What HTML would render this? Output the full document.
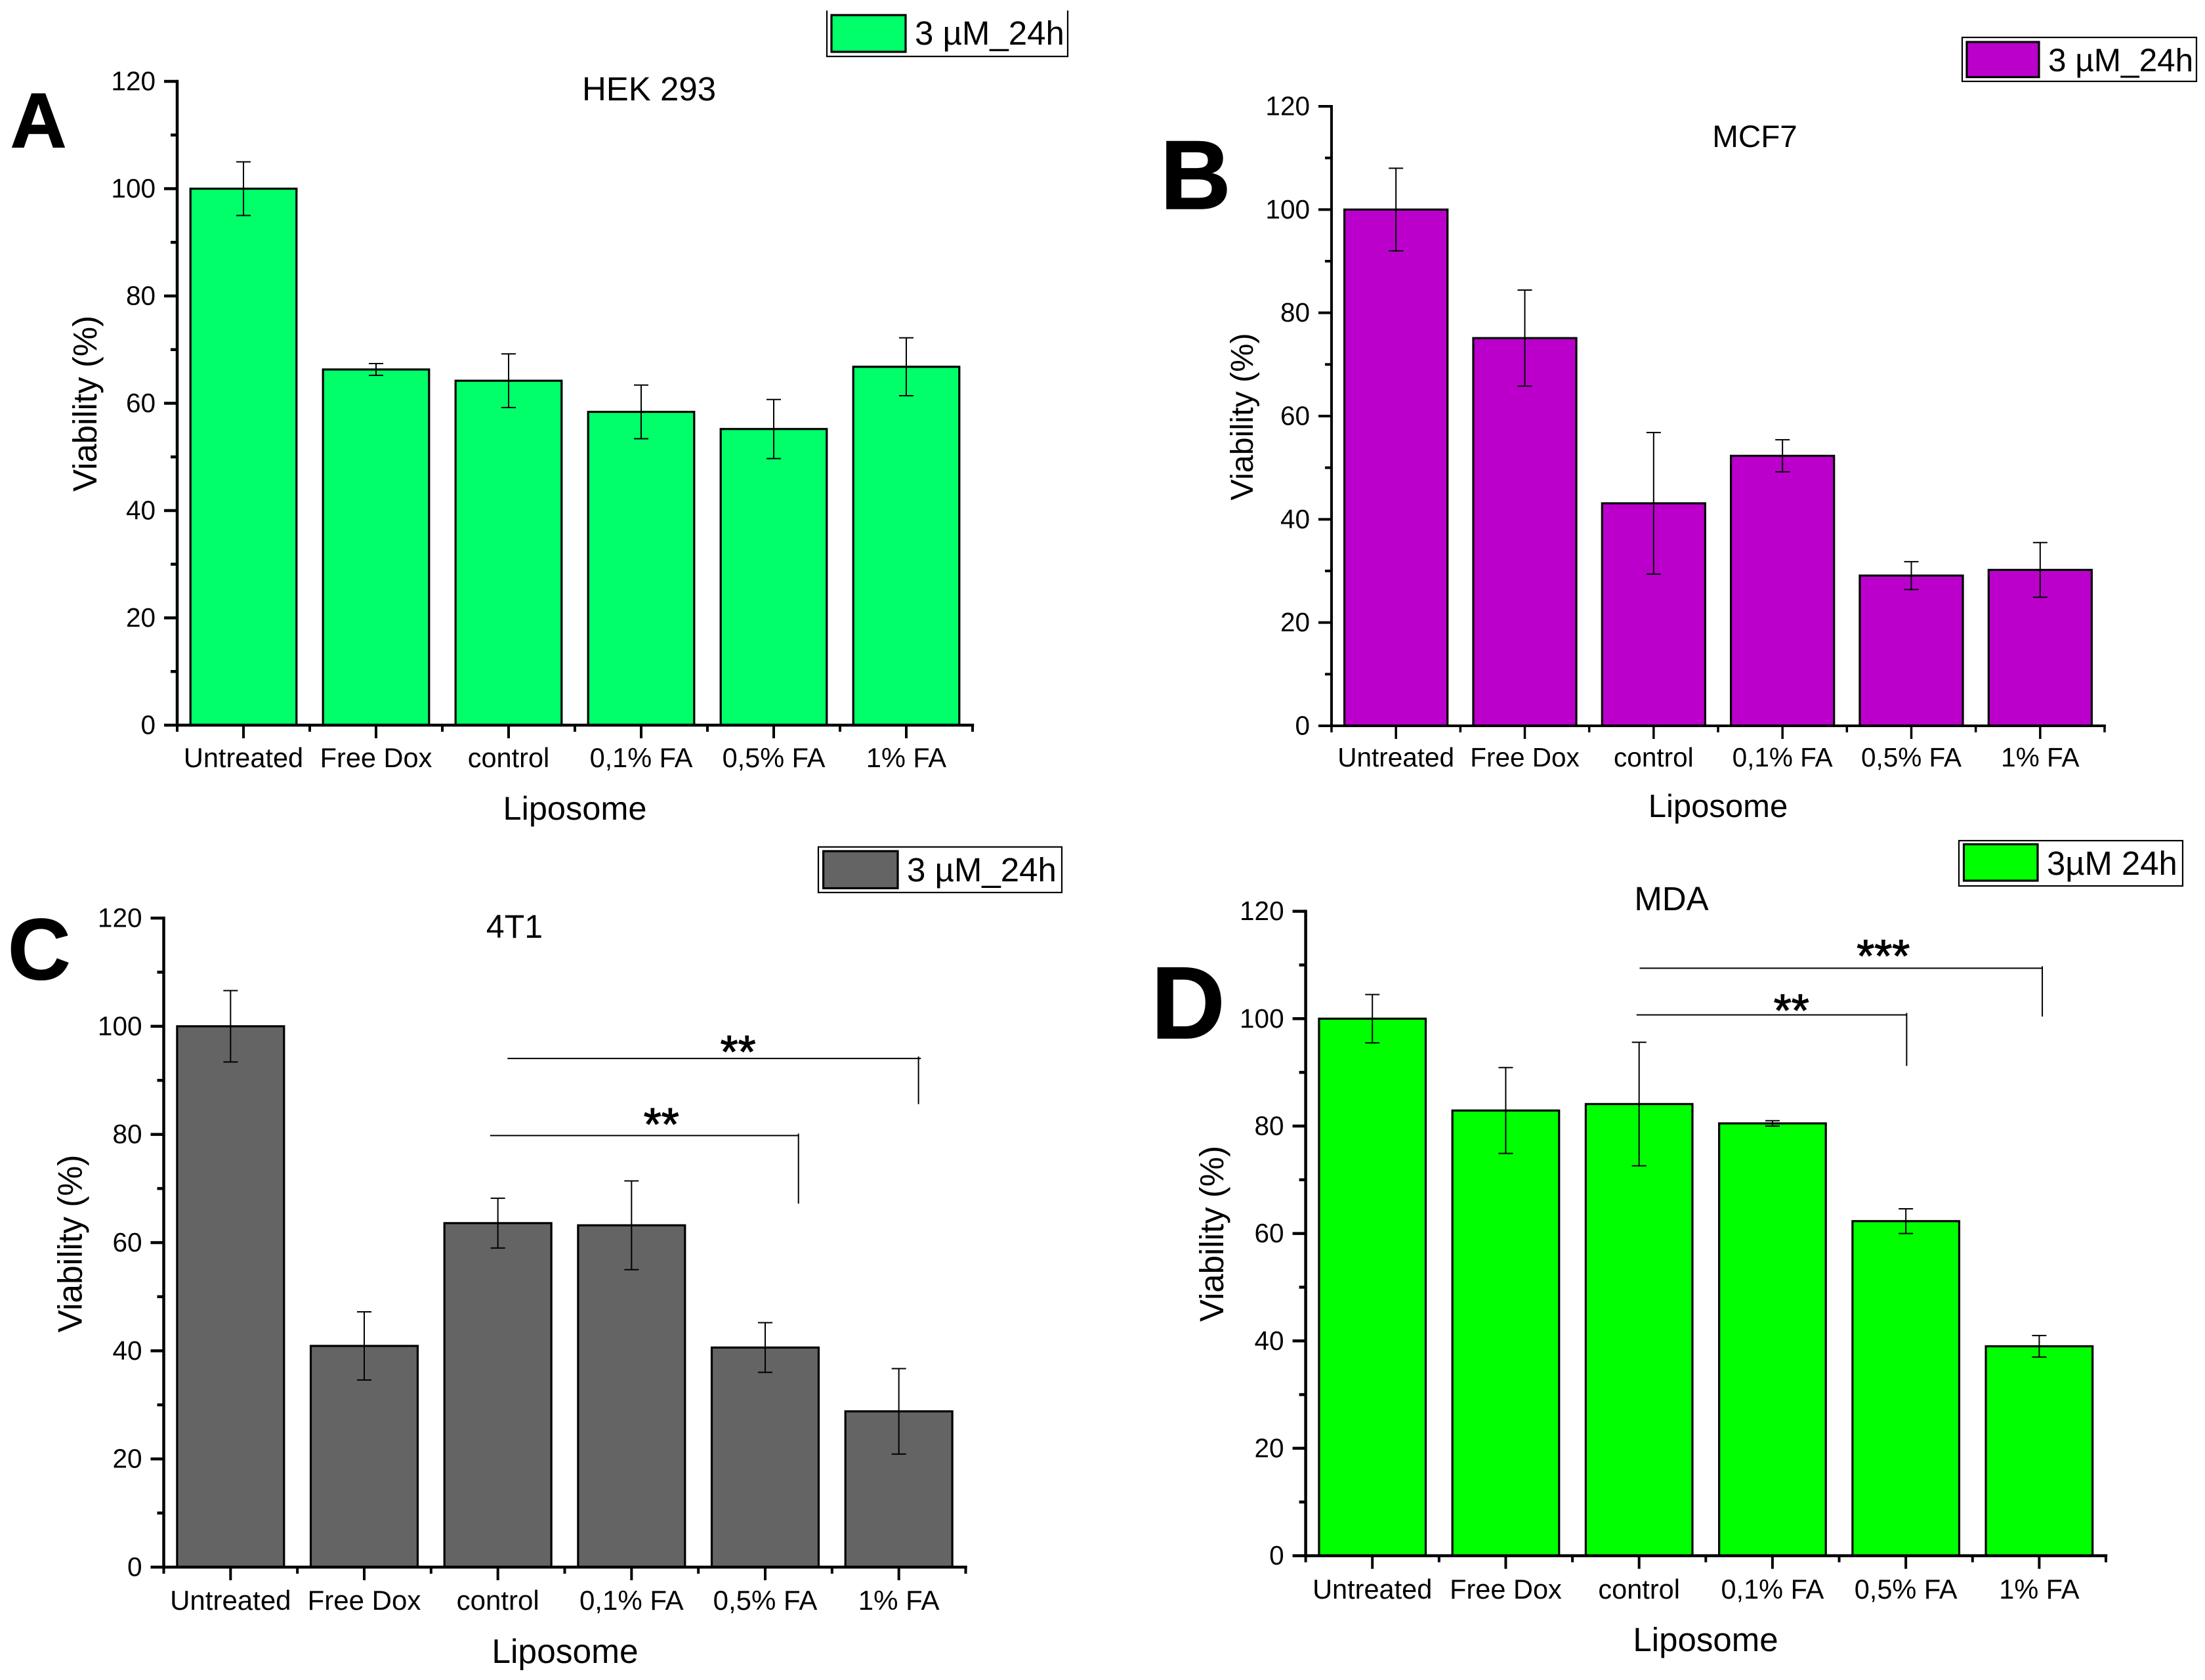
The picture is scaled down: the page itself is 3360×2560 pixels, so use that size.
<!DOCTYPE html>
<html lang="en">
<head>
<meta charset="utf-8">
<title>Liposome viability charts</title>
<style>
html,body{margin:0;padding:0;background:#fff;}
svg{display:block;}
text{font-family:"Liberation Sans",Arial,sans-serif;fill:#000;}
</style>
</head>
<body>
<svg id="figure" xmlns="http://www.w3.org/2000/svg" width="3360" height="2560" viewBox="0 0 3360 2560">
  <rect x="0" y="0" width="3360" height="2560" fill="#fff"/>
  <g id="panel-a"></g>
  <g id="panel-b"></g>
  <g id="panel-c"></g>
  <g id="panel-d"></g>
</svg>
<script>
const categories = ["Untreated", "Free Dox", "control", "0,1% FA", "0,5% FA", "1% FA"];
const yTickValues = [0, 20, 40, 60, 80, 100, 120];
const yMinorTickValues = [10, 30, 50, 70, 90, 110];

const hekValues = [100, 66.3, 64.2, 58.4, 55.2, 66.8];
const hekErrors = [5, 1.1, 5, 5, 5.5, 5.4];
const mcf7Values = [100, 75.1, 43.1, 52.3, 29.1, 30.2];
const mcf7Errors = [8, 9.3, 13.7, 3.1, 2.7, 5.3];
const t1Values = [100, 40.9, 63.6, 63.2, 40.6, 28.8];
const t1Errors = [6.6, 6.3, 4.6, 8.2, 4.6, 7.9];
const mdaValues = [100, 82.9, 84.1, 80.5, 62.3, 39];
const mdaErrors = [4.5, 8, 11.5, 0.5, 2.3, 2];

const t1Brackets = [
  {from: 2.572, to: 5.665, drop: 5.647, level: 94.05, end: 85.6, stars: "**", starAt: 4.297, starLevel: 92.4},
  {from: 2.442, to: 4.749, drop: 4.749, level: 79.8, end: 67.2, stars: "**", starAt: 3.723, starLevel: 79}
];
const mdaBrackets = [
  {from: 2.504, to: 5.523, drop: 5.523, level: 109.4, end: 100.4, stars: "***", starAt: 4.331, starLevel: 108.8},
  {from: 2.481, to: 4.506, drop: 4.506, level: 100.7, end: 91.2, stars: "**", starAt: 3.642, starLevel: 98.6}
];

const panels = [
  {id: "panel-a", key: "a", values: hekValues, errors: hekErrors, brackets: [], color: "#00FF68",
   x0: 270, x1: 1482, yBase: 1105, yTop: 124, axisW: 4.5, tickFont: 41.5,
   xLabelY: 1169, letter: "A", letterX: 16, letterY: 224, letterSize: 118,
   title: "HEK 293", titleX: 989, titleY: 153, titleSize: 51,
   xTitleX: 876, xTitleY: 1249, xTitleSize: 50.5,
   yTitleX: 147, yTitleY: 615, yTitleSize: 51,
   legend: {text: "3 µM_24h", open: true, left: 1260, right: 1627, top: 16, bottom: 86, sx: 1267, sy: 23, sw: 113, sh: 56, tx: 1394, ty: 68, size: 51}},
  {id: "panel-b", key: "b", values: mcf7Values, errors: mcf7Errors, brackets: [], color: "#BB00CC",
   x0: 2029, x1: 3207, yBase: 1106, yTop: 162, axisW: 4, tickFont: 40.5,
   xLabelY: 1168, letter: "B", letterX: 1768, letterY: 318, letterSize: 149,
   title: "MCF7", titleX: 2674, titleY: 224, titleSize: 47.6,
   xTitleX: 2618, xTitleY: 1245, xTitleSize: 49,
   yTitleX: 1909, yTitleY: 635, yTitleSize: 48.5,
   legend: {text: "3 µM_24h", open: false, left: 2990, right: 3347, top: 57, bottom: 124, sx: 2997, sy: 64, sw: 110, sh: 53.5, tx: 3121, ty: 108.6, size: 49.5}},
  {id: "panel-c", key: "c", values: t1Values, errors: t1Errors, brackets: t1Brackets, color: "#646464",
   x0: 249.5, x1: 1471.5, yBase: 2388, yTop: 1399, axisW: 4.5, tickFont: 42,
   xLabelY: 2453, letter: "C", letterX: 12, letterY: 1492, letterSize: 132,
   title: "4T1", titleX: 784, titleY: 1429, titleSize: 50,
   xTitleX: 861, xTitleY: 2534, xTitleSize: 51.5,
   yTitleX: 124.5, yTitleY: 1895, yTitleSize: 51.5,
   legend: {text: "3 µM_24h", open: false, left: 1247, right: 1618, top: 1290.6, bottom: 1360, sx: 1254.6, sy: 1297, sw: 113.4, sh: 56.5, tx: 1382, ty: 1343, size: 51}},
  {id: "panel-d", key: "d", values: mdaValues, errors: mdaErrors, brackets: mdaBrackets, color: "#00FF00",
   x0: 1989.6, x1: 3209, yBase: 2370.6, yTop: 1388.6, axisW: 4.5, tickFont: 41.5,
   xLabelY: 2436, letter: "D", letterX: 1754, letterY: 1582, letterSize: 156,
   title: "MDA", titleX: 2547, titleY: 1387, titleSize: 51,
   xTitleX: 2599, xTitleY: 2516, xTitleSize: 51,
   yTitleX: 1864, yTitleY: 1880, yTitleSize: 51,
   legend: {text: "3µM 24h", open: false, left: 2985, right: 3326, top: 1281, bottom: 1350, sx: 2992.5, sy: 1286.5, sw: 112.5, sh: 55.5, tx: 3119, ty: 1333, size: 50.8}}
];

const SVG_NS = "http://www.w3.org/2000/svg";

function mk(parent, tag, props, content) {
  const node = document.createElementNS(SVG_NS, tag);
  for (const k in props) node.setAttribute(k, props[k]);
  if (content !== undefined) node.textContent = content;
  parent.appendChild(node);
  return node;
}

function line(parent, a, b, c, d, w) {
  return mk(parent, "line", {x1: a, y1: b, x2: c, y2: d, stroke: "#000", "stroke-width": w});
}

function drawPanel(p) {
  const root = document.getElementById(p.id);
  const band = (p.x1 - p.x0) / categories.length;
  const xPos = function (u) { return p.x0 + u * band; };
  const xCenter = function (i) { return xPos(i + 0.5); };
  const yScale = function (v) { return p.yBase - (v / 120) * (p.yBase - p.yTop); };

  // bars
  p.values.forEach(function (v, i) {
    const w = band * 0.8;
    const bar = mk(root, "rect", {x: xCenter(i) - w / 2, y: yScale(v), width: w, height: yScale(0) - yScale(v), fill: p.color, stroke: "#000", "stroke-width": 3.2});
    
    
  });

  // error bars
  p.values.forEach(function (v, i) {
    const g = mk(root, "g", {});
    
    
    const cx = xCenter(i);
    const hi = yScale(v + p.errors[i]);
    const lo = yScale(v - p.errors[i]);
    line(g, cx, hi, cx, lo, 2);
    line(g, cx - 11, hi, cx + 11, hi, 2);
    line(g, cx - 11, lo, cx + 11, lo, 2);
  });

  // y axis
  const yAxis = mk(root, "g", {});
  
  
  line(yAxis, p.x0, p.yTop - p.axisW / 2, p.x0, yScale(0) + p.axisW / 2, p.axisW);
  yTickValues.forEach(function (t) {
    line(yAxis, p.x0 - 20, yScale(t), p.x0, yScale(t), p.axisW);
    const lab = mk(yAxis, "text", {x: p.x0 - 33, y: yScale(t) + 13.5, "text-anchor": "end", "font-size": 40.5}, String(t));
    
    
  });
  yMinorTickValues.forEach(function (t) {
    line(yAxis, p.x0 - 10, yScale(t), p.x0, yScale(t), p.axisW);
  });

  // x axis
  const xAxis = mk(root, "g", {});
  
  
  line(xAxis, p.x0, yScale(0), p.x1 + p.axisW / 2, yScale(0), p.axisW);
  for (let b = 0; b <= categories.length; b++) {
    line(xAxis, xPos(b), yScale(0), xPos(b), yScale(0) + 10, p.axisW - 0.5);
  }
  categories.forEach(function (c, i) {
    line(xAxis, xCenter(i), yScale(0), xCenter(i), yScale(0) + 20, p.axisW - 0.5);
    const lab = mk(xAxis, "text", {x: xCenter(i), y: p.xLabelY, "text-anchor": "middle", "font-size": p.tickFont}, c);
    
    
  });

  // axis titles
  const xTitle = mk(root, "text", {x: p.xTitleX, y: p.xTitleY, "text-anchor": "middle", "font-size": p.xTitleSize}, "Liposome");
  
  
  const yTitle = mk(root, "text", {x: p.yTitleX, y: p.yTitleY, "text-anchor": "middle", "font-size": p.yTitleSize, transform: "rotate(-90 " + p.yTitleX + " " + p.yTitleY + ")"}, "Viability (%)");
  
  

  // chart title
  const title = mk(root, "text", {x: p.titleX, y: p.titleY, "text-anchor": "middle", "font-size": p.titleSize}, p.title);
  
  

  // panel letter
  const letter = mk(root, "text", {x: p.letterX, y: p.letterY, "font-size": p.letterSize, "font-weight": "bold", stroke: "#000", "stroke-width": 1.5}, p.letter);
  
  

  // legend
  const L = p.legend;
  const legend = mk(root, "g", {});
  
  
  if (L.open) {
    mk(legend, "path", {d: "M" + L.left + " " + L.top + "V" + L.bottom + "H" + L.right + "V" + L.top, fill: "none", stroke: "#000", "stroke-width": 2.2});
  } else {
    mk(legend, "rect", {x: L.left, y: L.top, width: L.right - L.left, height: L.bottom - L.top, fill: "#fff", stroke: "#000", "stroke-width": 2.2});
  }
  const swatch = mk(legend, "rect", {x: L.sx, y: L.sy, width: L.sw, height: L.sh, fill: p.color, stroke: "#000", "stroke-width": 3.2});
  
  
  const legendText = mk(legend, "text", {x: L.tx, y: L.ty, "font-size": L.size}, L.text);
  
  

  // significance brackets
  p.brackets.forEach(function (b, i) {
    const g = mk(root, "g", {});
    
    
    line(g, xPos(b.from), yScale(b.level), xPos(b.to), yScale(b.level), 2);
    line(g, xPos(b.drop), yScale(b.level) - 3, xPos(b.drop), yScale(b.end), 2);
    const star = mk(g, "text", {x: xPos(b.starAt), y: yScale(b.starLevel), "text-anchor": "middle", "font-size": 69.5, stroke: "#000", "stroke-width": 1.2}, b.stars);
    
    
  });
}

panels.forEach(drawPanel);
</script>
</body>
</html>
